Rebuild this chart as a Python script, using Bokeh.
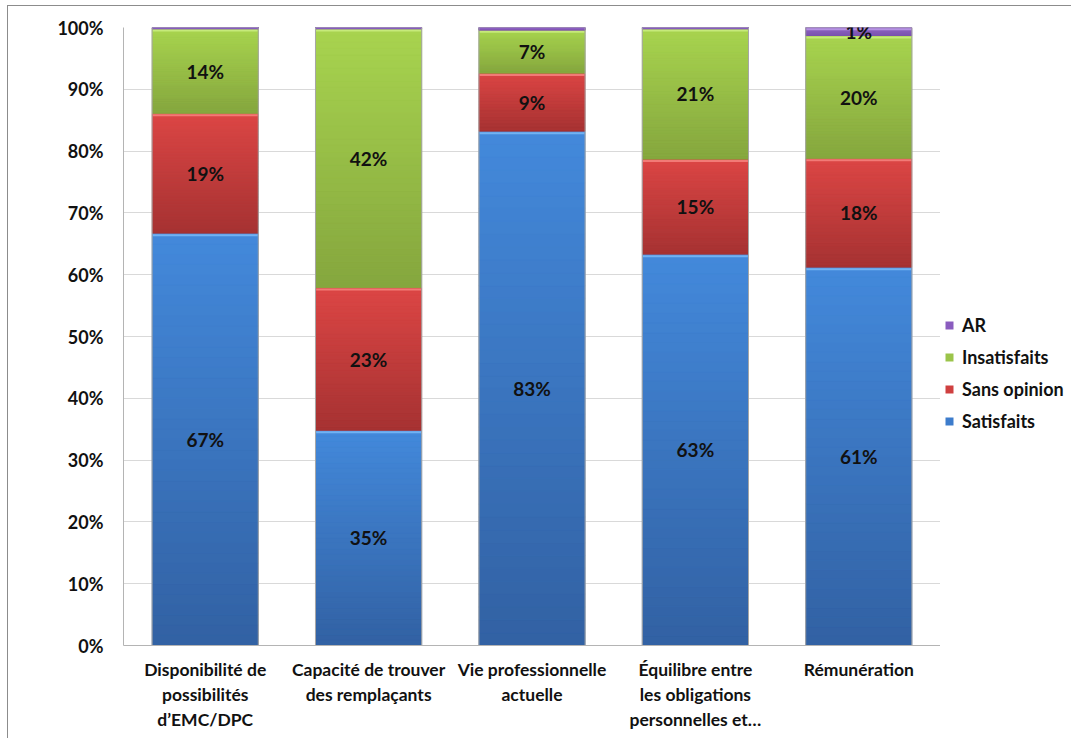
import numpy as np
from bokeh.plotting import figure
from bokeh.layouts import row
from bokeh.models import (ColumnDataSource, Legend, LegendItem, FixedTicker,
                          LabelSet)
from bokeh.core.properties import value
from bokeh.embed import file_html
from bokeh.resources import INLINE

# ---- data -------------------------------------------------------------
categories = [
    "Disponibilité de\npossibilités\nd’EMC/DPC",
    "Capacité de trouver\ndes remplaçants",
    "Vie professionnelle\nactuelle",
    "Équilibre entre\nles obligations\npersonnelles et…",
    "Rémunération",
]
series = ["Satisfaits", "Sans opinion", "Insatisfaits", "AR"]
satisfaits = [66.7, 34.8, 83.2, 63.3, 61.2]
sans_opinion = [19.4, 23.1, 9.4, 15.4, 17.6]
insatisfaits = [13.7, 41.9, 7.0, 21.1, 19.9]
ar = [0.2, 0.2, 0.4, 0.2, 1.3]
y_ticks = list(range(0, 101, 10))

# ---- styling ----------------------------------------------------------
FONT = "Lato"
BORDER = "#8c8c8c"
# (top colour, bottom colour, swatch colour) for each series
shades = {
    "Satisfaits": ("#4389db", "#3261a3", "#3d7ccc"),
    "Sans opinion": ("#dc4645", "#a53232", "#cf4040"),
    "Insatisfaits": ("#a8d44f", "#85a63e", "#9bc44a"),
    "AR": ("#9468c8", "#7a52ad", "#8a5cbf"),
}
highlight = {
    "Satisfaits": "#72b2f2",
    "Sans opinion": "#f27a76",
    "Insatisfaits": "#c6ea7a",
    "AR": "#b592e0",
}
BAR_W = 0.65

x = list(range(1, len(categories) + 1))
values = {"Satisfaits": satisfaits, "Sans opinion": sans_opinion,
          "Insatisfaits": insatisfaits, "AR": ar}

p = figure(width=940, height=738, x_range=(0.5, 5.5), y_range=(0, 100),
           output_backend="svg", toolbar_location=None,
           min_border_left=123, min_border_right=0,
           min_border_top=27, min_border_bottom=93)
p.outline_line_color = None
p.background_fill_color = "white"
p.border_fill_alpha = 0
# chart-area border (left and top edges)
p.styles = {
    "background": (
        f"linear-gradient({BORDER}, {BORDER}) 7px 5px / 1px 100% no-repeat, "
        f"linear-gradient({BORDER}, {BORDER}) 7px 5px / 100% 1px no-repeat, "
        "white"
    )
}

src = ColumnDataSource(dict(x=x, **{s: values[s] for s in series}))

# solid base stack
p.vbar_stack(series, x="x", width=BAR_W, source=src,
             color=[shades[s][2] for s in series], line_color=None)


def hex_to_rgb(h):
    h = h.lstrip("#")
    return np.array([int(h[i:i + 2], 16) for i in (0, 2, 4)], dtype=float)


def rgb_to_hex(c):
    return "#%02x%02x%02x" % tuple(int(round(v)) for v in c)


# vertical gradient strips inside every segment
N = 40
L, R, B, T, C = [], [], [], [], []
hl_x0, hl_x1, hl_y, hl_c = [], [], [], []
cum = np.zeros(len(x))
for s in series:
    vals = np.array(values[s])
    c_top = hex_to_rgb(shades[s][0])
    c_bot = hex_to_rgb(shades[s][1])
    for i, xi in enumerate(x):
        b0 = cum[i]
        t0 = cum[i] + vals[i]
        edges = np.linspace(b0, t0, N + 1)
        for k in range(N):
            frac = (k + 0.5) / N  # 0 at bottom, 1 at top
            col = c_bot + (c_top - c_bot) * frac
            L.append(xi - BAR_W / 2)
            R.append(xi + BAR_W / 2)
            B.append(edges[k])
            T.append(edges[k + 1])
            C.append(rgb_to_hex(col))
        if vals[i] > 0.5:
            hl_x0.append(xi - BAR_W / 2 + 0.004)
            hl_x1.append(xi + BAR_W / 2 - 0.004)
            hl_y.append(t0 - 0.3)
            hl_c.append(highlight[s])
    cum = cum + vals

p.quad(left=L, right=R, bottom=B, top=T, fill_color=C, line_color=C,
       line_width=0.6)
p.segment(x0=hl_x0, x1=hl_x1, y0=hl_y, y1=hl_y, line_color=hl_c,
          line_width=2)

# thin grey outline around each bar
totals = cum
p.quad(left=[xi - BAR_W / 2 for xi in x], right=[xi + BAR_W / 2 for xi in x],
       bottom=0, top=list(totals), fill_color=None, line_color="#a6a6a6",
       line_width=1)

# ---- value labels -----------------------------------------------------
lx, ly, lt = [], [], []
cum = np.zeros(len(x))
for s in series:
    vals = np.array(values[s])
    for i, xi in enumerate(x):
        pct = int(np.floor(vals[i] + 0.5))
        if pct >= 1:
            lx.append(xi)
            ly.append(cum[i] + vals[i] / 2)
            lt.append(f"{pct}%")
    cum = cum + vals
lab_src = ColumnDataSource(dict(x=lx, y=ly, t=lt))
p.add_layout(LabelSet(x="x", y="y", text="t", source=lab_src,
                      text_align="center", text_baseline="middle",
                      text_font=value(FONT), text_font_style="bold",
                      text_font_size="19px", text_color="#111111"))

# ---- axes -------------------------------------------------------------
p.yaxis.ticker = FixedTicker(ticks=y_ticks)
p.yaxis.major_label_overrides = {t: f"{t}%" for t in y_ticks}
p.xaxis.ticker = FixedTicker(ticks=x)
p.xaxis.major_label_overrides = {xi: c for xi, c in zip(x, categories)}
for ax in (p.xaxis, p.yaxis):
    ax.major_tick_line_color = None
    ax.minor_tick_line_color = None
    ax.major_tick_out = 0
    ax.major_tick_in = 0
    ax.axis_line_color = "#b4b4b4"
    ax.major_label_text_font = FONT
    ax.major_label_text_font_style = "bold"
    ax.major_label_text_color = "#111111"
p.yaxis.major_label_text_font_size = "18px"
p.yaxis.major_label_standoff = 20
p.xaxis.major_label_text_font_size = "17.5px"
p.xaxis.major_label_standoff = 13
p.xgrid.grid_line_color = None
p.ygrid.grid_line_color = "#d9d9d9"
p.ygrid.ticker = FixedTicker(ticks=y_ticks)

# ---- legend panel -----------------------------------------------------
leg = figure(width=131, height=738, x_range=(0, 1), y_range=(0, 1),
             x_axis_type=None, y_axis_type=None,
             output_backend="svg", toolbar_location=None,
             min_border=0)
leg.outline_line_color = None
leg.grid.grid_line_color = None
leg.background_fill_alpha = 0
leg.border_fill_alpha = 0
leg.styles = {
    "background": (
        f"linear-gradient({BORDER}, {BORDER}) 0 5px / 100% 1px no-repeat, "
        "white"
    )
}
# swatch renderers sit outside the visible range; only their legend entries show
swatches = {s: leg.quad(left=[4], right=[5], bottom=[4], top=[5],
                        fill_color=shades[s][2], line_color=None)
            for s in series}
items = [LegendItem(label=s, renderers=[swatches[s]]) for s in reversed(series)]
legend = Legend(items=items, location=(4, 213), padding=0, margin=0,
                spacing=10, glyph_width=10, glyph_height=10,
                label_height=20, label_standoff=8,
                label_text_font=FONT, label_text_font_style="bold",
                label_text_font_size="18px", label_text_color="#111111",
                background_fill_alpha=0, border_line_color=None)
leg.add_layout(legend, "center")

layout = row(p, leg, spacing=0)
open("out.html", "w").write(file_html(layout, INLINE))
